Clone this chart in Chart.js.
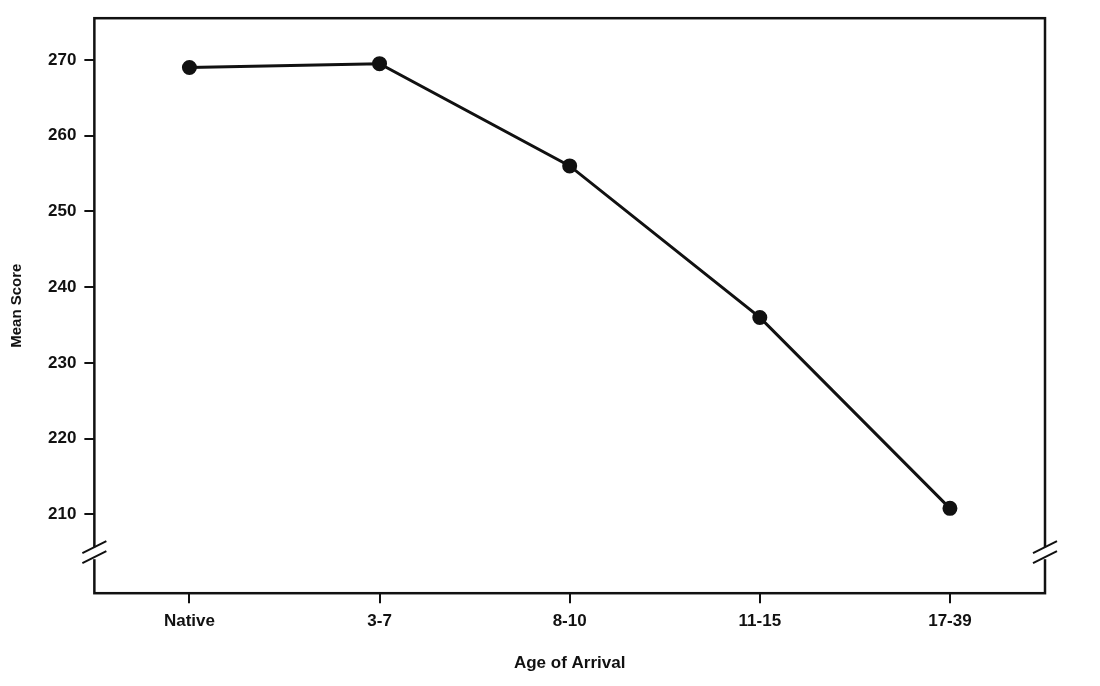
<!DOCTYPE html>
<html><head><meta charset="utf-8">
<script src="https://cdn.jsdelivr.net/npm/chart.js@4"></script>
<style>body{margin:0;background:#fff}</style>
</head><body><canvas id="c" width="1100" height="686"></canvas>
<script>
var categories = ['Native', '3-7', '8-10', '11-15', '17-39'];
var meanScores = [269, 269.5, 256, 236, 210.8];
var yTicks = [210, 220, 230, 240, 250, 260, 270];
var yTickLabels = ['210', '220', '230', '240', '250', '260', '270'];

var frame = {
    id: 'frame',
    afterDraw: function (chart) {
        var a = chart.chartArea, ctx = chart.ctx;
        ctx.save();
        ctx.strokeStyle = '#111';
        ctx.lineWidth = 2.5;
        ctx.strokeRect(a.left, a.top, a.right - a.left, a.bottom - a.top);
        // axis break marks
        ctx.lineWidth = 2;
        [a.left, a.right].forEach(function (x) {
            var y = a.bottom - 40;
            ctx.fillStyle = '#fff';
            ctx.fillRect(x - 4, y - 6, 8, 12);
            ctx.beginPath();
            ctx.moveTo(x - 12, y); ctx.lineTo(x + 12, y - 12);
            ctx.moveTo(x - 12, y + 10); ctx.lineTo(x + 12, y - 2);
            ctx.stroke();
        });
        ctx.restore();
    }
};

new Chart(document.getElementById('c'), {
    type: 'line',
    data: {
        labels: categories,
        datasets: [{
            data: meanScores,
            borderColor: '#111',
            backgroundColor: '#111',
            borderWidth: 3,
            pointRadius: 6,
            tension: 0
        }]
    },
    options: {
        responsive: false,
        animation: false,
        devicePixelRatio: 1,
        layout: { padding: { top: 18, right: 55, bottom: 8, left: 4 } },
        plugins: { legend: { display: false }, tooltip: { enabled: false } },
        scales: {
            x: {
                offset: true,
                grid: { drawOnChartArea: false, tickLength: 10, color: '#111', lineWidth: 2 },
                border: { display: false },
                ticks: { color: '#111', font: { family: 'Liberation Sans', size: 17, weight: 'bold' }, padding: 8 },
                title: { display: true, text: 'Age of Arrival', color: '#111', font: { family: 'Liberation Sans', size: 17, weight: 'bold' }, padding: { top: 14 } }
            },
            y: {
                min: 199.6,
                max: 275.5,
                afterBuildTicks: function (axis) {
                    axis.ticks = yTicks.map(function (v) { return { value: v }; });
                },
                grid: { drawOnChartArea: false, tickLength: 10, color: '#111', lineWidth: 2 },
                border: { display: false },
                ticks: {
                    color: '#111',
                    font: { family: 'Liberation Sans', size: 17, weight: 'bold' },
                    padding: 8,
                    callback: function (v, i) { return yTickLabels[i]; }
                },
                title: { display: true, text: 'Mean Score', color: '#111', font: { family: 'Liberation Sans', size: 15, weight: 'bold' }, padding: { bottom: 14 } }
            }
        }
    },
    plugins: [frame]
});
</script>
</body></html>
